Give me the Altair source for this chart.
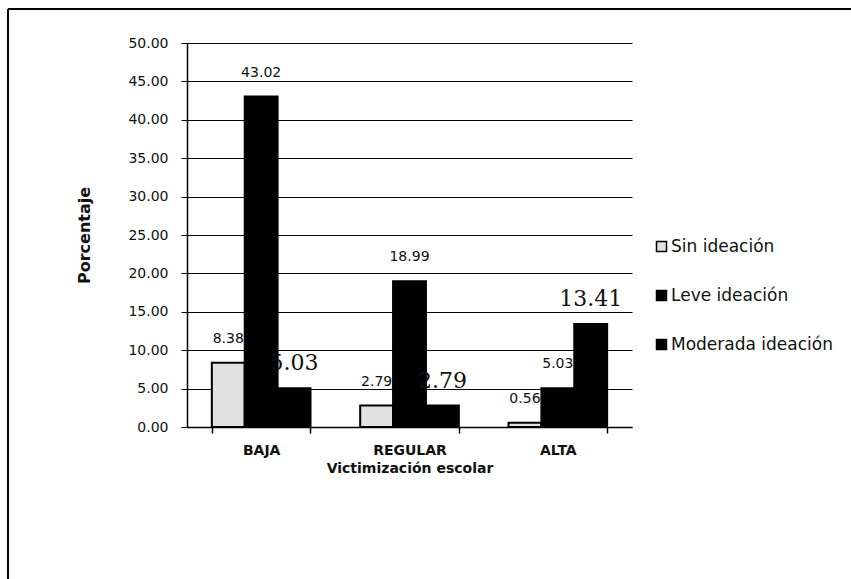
import altair as alt
import pandas as pd

categorias = ["BAJA", "REGULAR", "ALTA"]
series = ["Sin ideación", "Leve ideación", "Moderada ideación"]
sin_ideacion = [8.38, 2.79, 0.56]
leve_ideacion = [43.02, 18.99, 5.03]
moderada_ideacion = [5.03, 2.79, 13.41]
y_ticks = [0, 5, 10, 15, 20, 25, 30, 35, 40, 45, 50]

rows = []
for serie, vals in zip(series, [sin_ideacion, leve_ideacion, moderada_ideacion]):
    for cat, v in zip(categorias, vals):
        rows.append({"cat": cat, "serie": serie, "valor": v})
df = pd.DataFrame(rows)

x_enc = alt.X(
    "cat:N", sort=categorias,
    scale=alt.Scale(paddingInner=0.335, paddingOuter=0.1675),
    axis=alt.Axis(title="Victimización escolar", labelAngle=0, tickBand="extent",
                  tickSize=6, labelPadding=10, labelFont="DejaVu Sans",
                  labelFontSize=14, labelFontWeight="bold", labelColor="#111",
                  titleFont="DejaVu Sans", titleFontSize=14, titleFontWeight="bold",
                  titlePadding=4, titleColor="#111", domainColor="black",
                  domainWidth=1.5, tickColor="black", tickWidth=1.5),
)
xo_enc = alt.XOffset("serie:N", sort=series, scale=alt.Scale(paddingInner=0, paddingOuter=0))
y_enc = alt.Y(
    "valor:Q", scale=alt.Scale(domain=[0, 50]),
    axis=alt.Axis(title="Porcentaje", values=y_ticks, format=".2f", grid=True,
                  gridColor="black", gridWidth=1, tickSize=6, tickColor="black",
                  domainColor="black", domainWidth=1.5, labelPadding=13,
                  labelFont="DejaVu Sans", labelFontSize=14, labelColor="#111",
                  labelOverlap=False,
                  titleFont="DejaVu Sans", titleFontSize=16, titleFontWeight="bold",
                  titleColor="#111", titlePadding=35),
)

color = alt.Color(
    "serie:N", sort=series,
    scale=alt.Scale(domain=series, range=["#e2e2e2", "#000000", "#000000"]),
    legend=alt.Legend(title=None, orient="none", legendX=466, legendY=195,
                      symbolType="square", symbolSize=100, symbolStrokeColor="black",
                      symbolStrokeWidth=1.5, labelFont="DejaVu Sans", labelFontSize=17,
                      labelColor="#111", rowPadding=31, labelOffset=1, labelLimit=400),
)

bars = alt.Chart(df).mark_bar(stroke="black", strokeWidth=2).encode(
    x=x_enc, xOffset=xo_enc, y=y_enc, color=color
)

small = alt.Chart(df).transform_filter(
    alt.datum.serie != "Moderada ideación"
).mark_text(font="DejaVu Sans", fontSize=14, baseline="middle", dy=-24, color="#111").encode(
    x=x_enc, xOffset=xo_enc, y=y_enc, text=alt.Text("valor:Q", format=".2f")
)

big = alt.Chart(df).transform_filter(
    alt.datum.serie == "Moderada ideación"
).mark_text(font="DejaVu Serif", fontSize=22, baseline="middle", dy=-25, color="#111").encode(
    x=x_enc, xOffset=xo_enc, y=y_enc, text=alt.Text("valor:Q", format=".2f")
)

one = pd.DataFrame({"k": [0]})
border_top = alt.Chart(one).mark_rule(color="black", strokeWidth=2).encode(
    x=alt.value(-179), x2=alt.value(664), y=alt.value(-34)
)
border_left = alt.Chart(one).mark_rule(color="black", strokeWidth=2).encode(
    x=alt.value(-179), y=alt.value(-34), y2=alt.value(536)
)

chart = alt.layer(bars, small, big, border_top, border_left).properties(
    width=445, height=384,
    padding={"left": 187, "top": 43, "right": 219, "bottom": 152},
    autosize=alt.AutoSizeParams(type="none"),
    background="white",
).configure_view(stroke=None)

chart.save("out.html", embed_options={"renderer": "svg", "actions": False})
